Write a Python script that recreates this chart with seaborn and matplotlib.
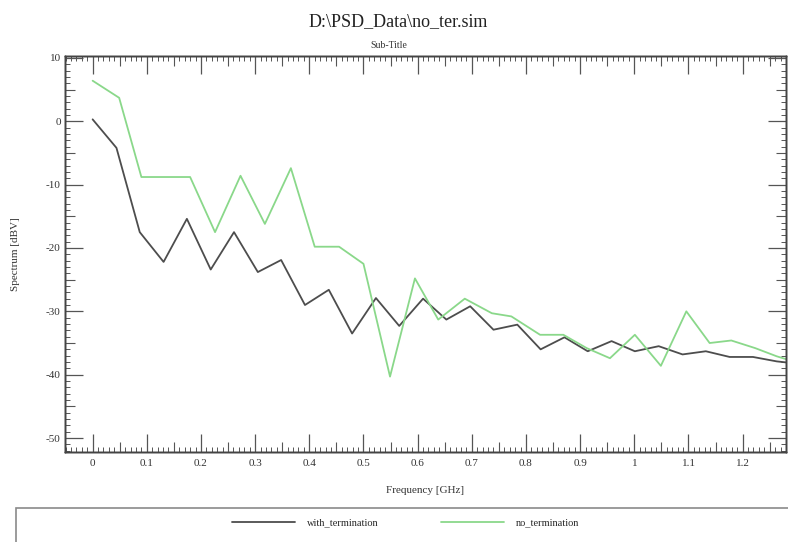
import numpy as np
import pandas as pd
import matplotlib
matplotlib.use("Agg")
import matplotlib.pyplot as plt
from matplotlib.patches import Rectangle
from matplotlib.lines import Line2D
from matplotlib.ticker import MultipleLocator, FixedLocator
import seaborn as sns

# ---- data ----
freq_with = [0.000, 0.044, 0.087, 0.131, 0.174, 0.218, 0.261, 0.305, 0.348, 0.392,
             0.436, 0.479, 0.523, 0.566, 0.610, 0.653, 0.697, 0.740, 0.784, 0.827,
             0.871, 0.914, 0.958, 1.001, 1.045, 1.089, 1.132, 1.176, 1.219, 1.263, 1.306]
with_termination = [0.3, -4.2, -17.5, -22.2, -15.4, -23.4, -17.5, -23.8, -21.9, -29.0,
                    -26.6, -33.5, -27.9, -32.3, -28.0, -31.3, -29.2, -32.9, -32.1, -36.0,
                    -34.1, -36.3, -34.7, -36.3, -35.5, -36.8, -36.3, -37.2, -37.2, -37.9, -38.3]

freq_no = [0.000, 0.049, 0.090, 0.135, 0.180, 0.226, 0.273, 0.318, 0.366, 0.410,
           0.455, 0.500, 0.549, 0.595, 0.638, 0.687, 0.737, 0.773, 0.826, 0.869,
           0.912, 0.955, 1.001, 1.049, 1.096, 1.139, 1.179, 1.223, 1.263, 1.309]
no_termination = [6.4, 3.7, -8.8, -8.8, -8.8, -17.5, -8.6, -16.2, -7.4, -19.8,
                  -19.8, -22.5, -40.3, -24.8, -31.3, -28.0, -30.3, -30.8, -33.7, -33.7,
                  -35.8, -37.4, -33.7, -38.6, -30.0, -35.0, -34.6, -35.8, -37.1, -38.3]

x_tick_vals = [0, 0.1, 0.2, 0.3, 0.4, 0.5, 0.6, 0.7, 0.8, 0.9, 1.0, 1.1, 1.2]
x_tick_labels = ["0", "0.1", "0.2", "0.3", "0.4", "0.5", "0.6", "0.7", "0.8", "0.9", "1", "1.1", "1.2"]
y_tick_vals = [10, 0, -10, -20, -30, -40, -50]
y_tick_labels = ["10", "0", "-10", "-20", "-30", "-40", "-50"]
x_mid_ticks = [0.05, 0.15, 0.25, 0.35, 0.45, 0.55, 0.65, 0.75, 0.85, 0.95, 1.05, 1.15, 1.25]
y_mid_ticks = [5, -5, -15, -25, -35, -45]

df = pd.concat([
    pd.DataFrame({"freq": freq_with, "val": with_termination, "series": "with_termination"}),
    pd.DataFrame({"freq": freq_no, "val": no_termination, "series": "no_termination"}),
])

sns.set_style("ticks")
plt.rcParams["font.family"] = ["Liberation Serif", "DejaVu Serif"]
plt.rcParams["axes.unicode_minus"] = False

fig = plt.figure(figsize=(7.88, 5.42), dpi=100)
ax = fig.add_axes([65/788, 1 - 452/542, (786 - 65)/788, (452 - 56)/542])

palette = {"with_termination": "#4d4d4d", "no_termination": "#8ad88a"}
sns.lineplot(data=df, x="freq", y="val", hue="series", palette=palette,
             hue_order=["with_termination", "no_termination"],
             sort=False, estimator=None, linewidth=1.3, ax=ax, legend=False)

xlim = (-0.051, 1.28)
ylim = (-52.2, 10.3)
ax.set_xlim(*xlim)
ax.set_ylim(*ylim)

# twin axes only for the medium (half-step) ticks
axm = ax.twinx()
axm.set_ylim(*ylim)
axm2 = ax.twiny()
axm2.set_xlim(*xlim)

ax.set_xticks(x_tick_vals)
ax.set_xticklabels(x_tick_labels)
ax.set_yticks(y_tick_vals)
ax.set_yticklabels(y_tick_labels)
ax.xaxis.set_minor_locator(MultipleLocator(0.01))
ax.yaxis.set_minor_locator(MultipleLocator(1))

tick_col = "#555555"
ax.tick_params(which="major", direction="in", length=13, width=0.9, color=tick_col,
               top=True, right=True, bottom=True, left=True,
               labelsize=8, pad=3, labelcolor="#333333")
ax.tick_params(which="minor", direction="in", length=3.5, width=0.7, color=tick_col,
               top=True, right=True, bottom=True, left=True)
ax.tick_params(axis="x", which="major", pad=5)

axm.yaxis.set_major_locator(FixedLocator(y_mid_ticks))
axm.yaxis.set_minor_locator(FixedLocator([]))
axm.tick_params(axis="y", which="major", direction="in", length=7, width=0.8, color=tick_col,
                left=True, right=True, labelleft=False, labelright=False)
axm2.xaxis.set_major_locator(FixedLocator(x_mid_ticks))
axm2.xaxis.set_minor_locator(FixedLocator([]))
axm2.tick_params(axis="x", which="major", direction="in", length=7, width=0.8, color=tick_col,
                 top=True, bottom=True, labeltop=False, labelbottom=False)
for a in (ax, axm, axm2):
    for s in a.spines.values():
        s.set_color("#444444")
        s.set_linewidth(1.0)

ax.set_xlabel("Frequency [GHz]", fontsize=8, color="#333333")
ax.set_ylabel("Spectrum [dBV]", fontsize=8, color="#333333")
ax.xaxis.set_label_coords(0.5, -0.085)
ax.yaxis.set_label_coords(-0.063, 0.5)

fig.text(0.505, 1 - 22/542, "D:\\PSD_Data\\no_ter.sim", ha="center", va="center",
         fontsize=13, color="#222222")
fig.text(0.493, 1 - 46/542, "Sub-Title", ha="center", va="center", fontsize=7, color="#333333")

# legend box
fig.add_artist(Rectangle((16/788, -0.02), 1.0, (542 - 508)/542 + 0.02,
                         transform=fig.transFigure, fill=False,
                         edgecolor="#8a8a8a", linewidth=1.2))
handles = [Line2D([], [], color=palette["with_termination"], lw=1.3),
           Line2D([], [], color=palette["no_termination"], lw=1.3)]
fig.legend(handles, ["with_termination", "no_termination"], loc="center",
           bbox_to_anchor=(0.515, 1 - 523/542), ncol=2, frameon=False,
           fontsize=7.5, handlelength=6.0, handletextpad=1.2, columnspacing=6.0)

fig.savefig("out.png", dpi=100, facecolor="white")
